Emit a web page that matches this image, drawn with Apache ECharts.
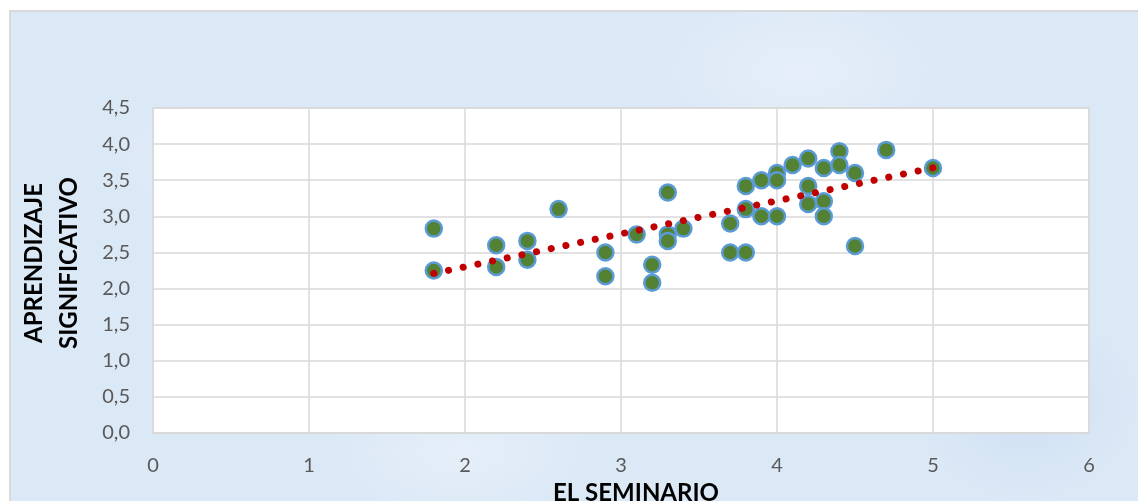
<!DOCTYPE html>
<html>
<head>
<meta charset="utf-8">
<script src="https://cdn.jsdelivr.net/npm/echarts@6/dist/echarts.min.js"></script>
<style>
html,body{margin:0;padding:0;background:#fff;}
#frame{position:absolute;left:9px;top:10px;width:1129px;height:491px;box-sizing:border-box;border-left:2px solid #d9d9d9;border-top:2px solid #d9d9d9;
background:
radial-gradient(ellipse 180px 90px at 20% 30%, rgba(255,255,255,0.35), rgba(255,255,255,0) 70%),
radial-gradient(ellipse 220px 120px at 70% 12%, rgba(255,255,255,0.3), rgba(255,255,255,0) 70%),
radial-gradient(ellipse 160px 140px at 90% 80%, rgba(180,205,235,0.3), rgba(180,205,235,0) 70%),
radial-gradient(ellipse 200px 100px at 40% 90%, rgba(255,255,255,0.3), rgba(255,255,255,0) 70%),
#dbe8f6;}
#chart{position:absolute;left:0;top:0;width:1138px;height:501px;}
</style>
</head>
<body>
<div id="frame"></div>
<div id="chart"></div>
<script>
// EL SEMINARIO (x) values and APRENDIZAJE SIGNIFICATIVO (y) values
var seminario = [1.8,1.8,2.2,2.2,2.4,2.4,2.6,2.9,2.9,3.1,3.2,3.2,3.3,3.3,3.3,3.4,3.7,3.7,3.8,3.8,3.8,3.9,3.9,4.0,4.0,4.0,4.1,4.2,4.2,4.2,4.3,4.3,4.3,4.4,4.4,4.5,4.5,4.7,5.0];
var aprendizaje = [2.83,2.25,2.60,2.30,2.66,2.40,3.10,2.50,2.17,2.75,2.33,2.08,3.33,2.75,2.66,2.83,2.90,2.50,2.50,3.10,3.42,3.50,3.00,3.60,3.50,3.00,3.71,3.80,3.42,3.17,3.67,3.21,3.00,3.90,3.71,3.60,2.59,3.92,3.67];
var xTicks = [0,1,2,3,4,5,6];
var yTicks = ['0,0','0,5','1,0','1,5','2,0','2,5','3,0','3,5','4,0','4,5'];

var points = seminario.map(function(x,i){return [x, aprendizaje[i]];});
// least squares linear trend line (Excel-style)
var n = seminario.length, sx=0, sy=0, sxx=0, sxy=0;
for (var i=0;i<n;i++){sx+=seminario[i];sy+=aprendizaje[i];sxx+=seminario[i]*seminario[i];sxy+=seminario[i]*aprendizaje[i];}
var slope = (n*sxy - sx*sy)/(n*sxx - sx*sx);
var intercept = (sy - slope*sx)/n;
var xmin = Math.min.apply(null, seminario), xmax = Math.max.apply(null, seminario);
var trend = [[xmin, intercept+slope*xmin],[xmax, intercept+slope*xmax]];

var font = 'Lato, "Open Sans", sans-serif';
var chart = echarts.init(document.getElementById('chart'), null, {renderer:'canvas'});
chart.setOption({
  backgroundColor: 'transparent',
  animation: false,
  grid: {left:153, top:108, right:49, bottom:68, show:true, backgroundColor:'#ffffff', borderColor:'#d9d9d9', borderWidth:1.5, containLabel:false},
  xAxis: {
    type:'value', min:0, max:6, interval:1,
    axisLine:{show:true, lineStyle:{color:'#d9d9d9', width:1.5}},
    axisTick:{show:false},
    splitLine:{show:true, lineStyle:{color:'#d9d9d9', width:1.5}},
    axisLabel:{color:'#595959', fontSize:20, fontFamily:font, margin:23,
      formatter:function(v){return xTicks.indexOf(v)>=0 ? String(v) : '';}}
  },
  yAxis: {
    type:'value', min:0, max:4.5, interval:0.5,
    axisLine:{show:false},
    axisTick:{show:false},
    splitLine:{show:true, lineStyle:{color:'#d9d9d9', width:1.5}},
    axisLabel:{color:'#595959', fontSize:20, fontFamily:font, margin:23,
      formatter:function(v){return yTicks[Math.round(v*2)];}}
  },
  graphic: [
    {type:'text', style:{text:'EL SEMINARIO', x:636, y:481, textAlign:'center', textVerticalAlign:'top', fill:'#000', font:'bold 24px '+font}, z:10},
    {type:'text', x:52, y:263, rotation:Math.PI/2, style:{text:'APRENDIZAJE\nSIGNIFICATIVO', textAlign:'center', textVerticalAlign:'middle', fill:'#000', font:'bold 24px '+font, lineHeight:35}, z:10}
  ],
  series: [
    {type:'scatter', data:points, symbol:'circle', symbolSize:16,
      itemStyle:{color:'#548235', borderColor:'#5B9BD5', borderWidth:2.5, opacity:1}, z:2},
    {type:'line', data:trend, symbol:'none', silent:true,
      lineStyle:{color:'#C00000', width:7, type:[0.1,14.9], cap:'round'}, z:3}
  ]
});
</script>
</body>
</html>
